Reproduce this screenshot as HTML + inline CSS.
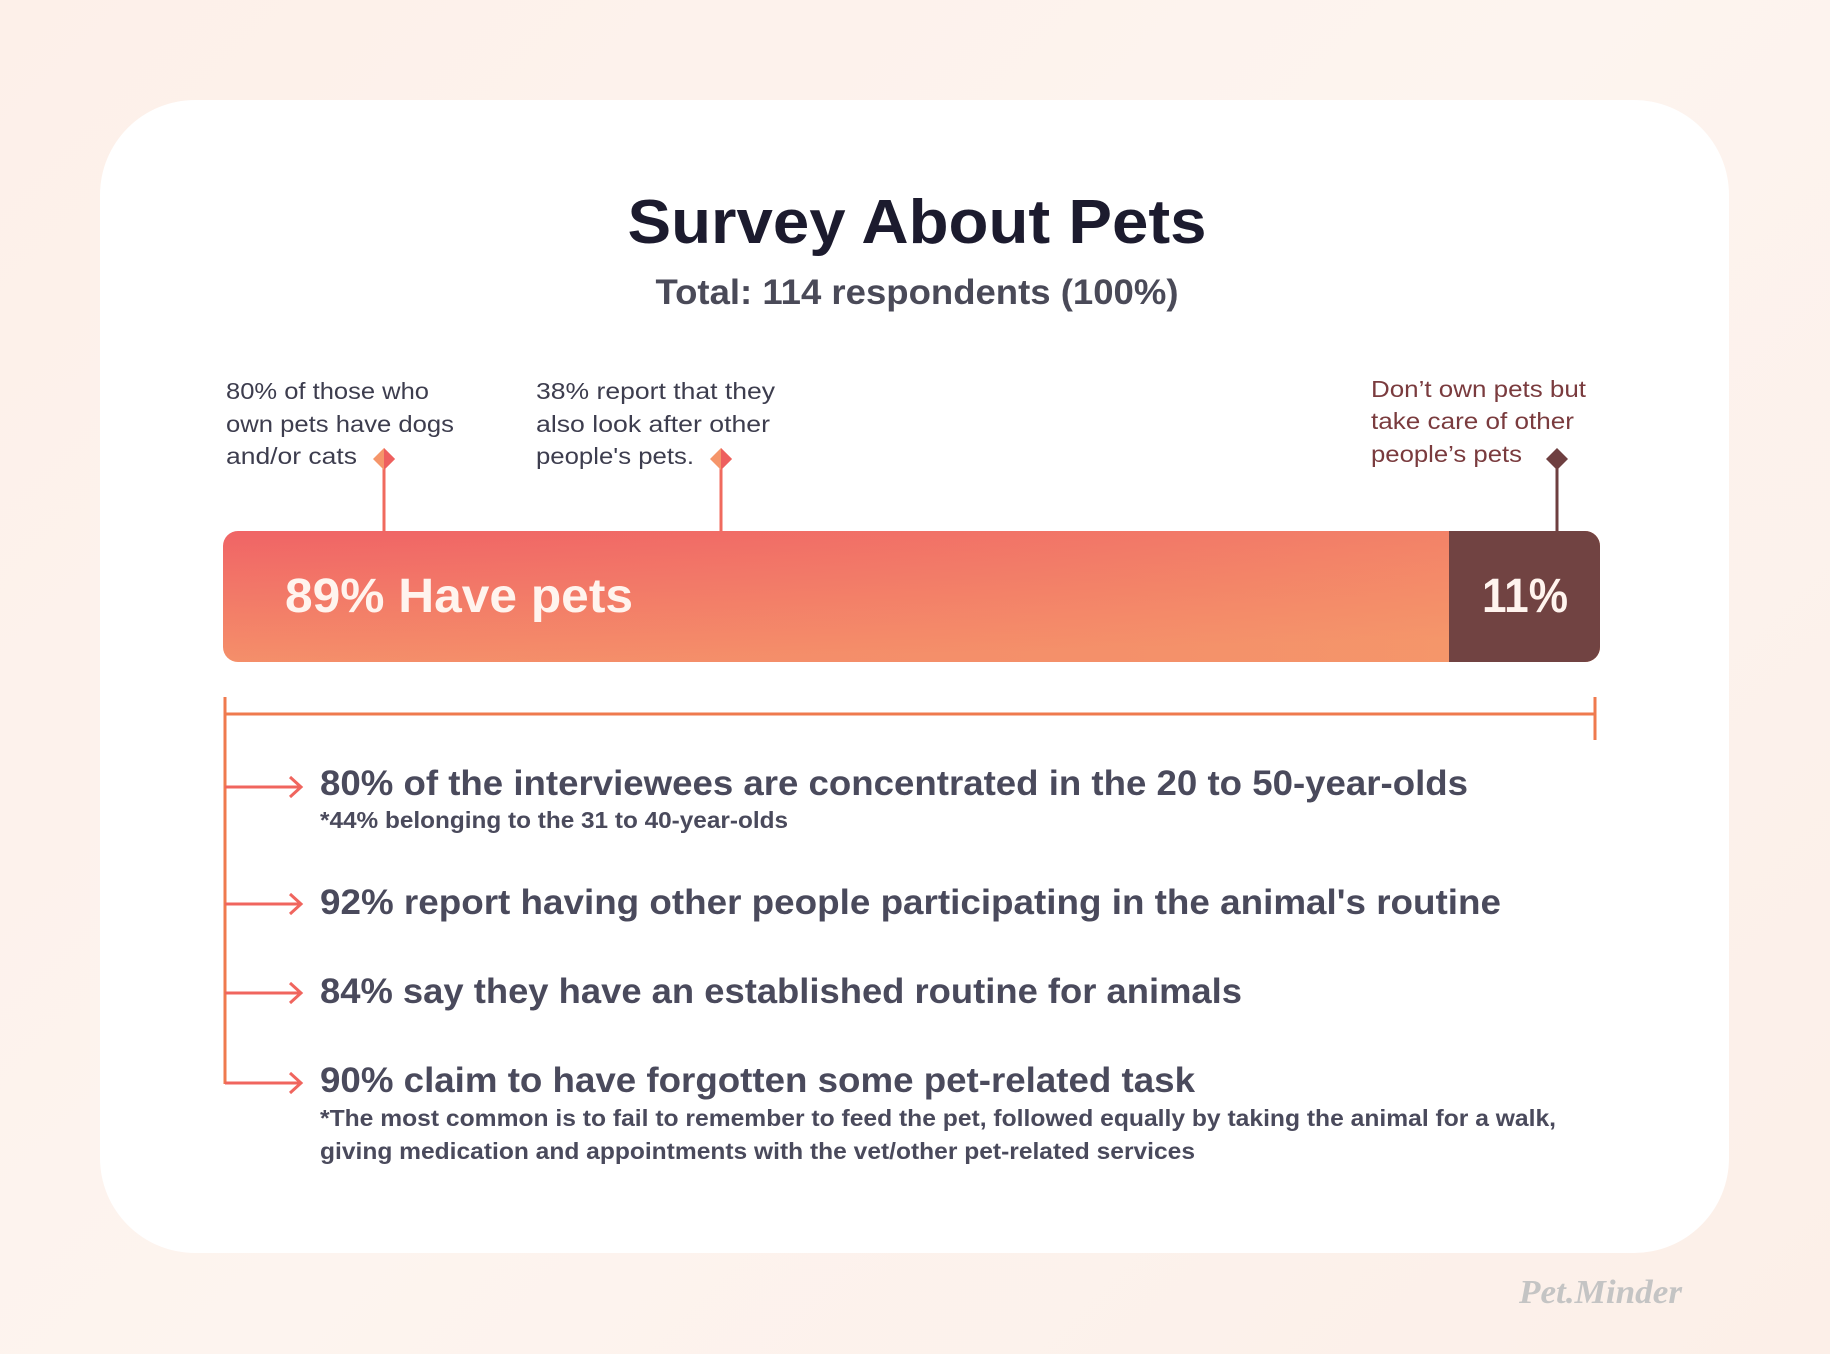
<!DOCTYPE html>
<html><head><meta charset="utf-8"><style>
html,body{margin:0;padding:0;}
body{width:1830px;height:1354px;overflow:hidden;background:linear-gradient(135deg,#fdf0e9,#fdf4ef 50%,#fcefe8);}
svg{display:block;font-family:"Liberation Sans",sans-serif;}
</style></head><body>
<svg width="1830" height="1354" viewBox="0 0 1830 1354" xmlns="http://www.w3.org/2000/svg">
<defs>
<linearGradient id="bar" x1="0" y1="0" x2="0.3" y2="1">
<stop offset="0" stop-color="#f06466"/><stop offset="1" stop-color="#f5936a"/>
</linearGradient>
<linearGradient id="bar2" x1="0" y1="0" x2="1" y2="0">
<stop offset="0" stop-color="#f06466" stop-opacity="0"/><stop offset="1" stop-color="#f5a06a" stop-opacity="0.5"/>
</linearGradient>
</defs>
<rect x="100" y="100" width="1629" height="1153" rx="95" fill="#ffffff"/>
<text x="917" y="243" text-anchor="middle" font-size="62" font-weight="bold" fill="#1c1b2e" textLength="579" lengthAdjust="spacingAndGlyphs">Survey About Pets</text>
<text x="917" y="304" text-anchor="middle" font-size="35" font-weight="bold" fill="#4a4a58" textLength="523" lengthAdjust="spacingAndGlyphs">Total: 114 respondents (100%)</text>

<g font-size="23" fill="#3d3d4e">
<text x="226" y="399" textLength="203" lengthAdjust="spacingAndGlyphs">80% of those who</text>
<text x="226" y="432" textLength="228" lengthAdjust="spacingAndGlyphs">own pets have dogs</text>
<text x="226" y="464" textLength="131" lengthAdjust="spacingAndGlyphs">and/or cats</text>
<text x="536" y="399" textLength="239" lengthAdjust="spacingAndGlyphs">38% report that they</text>
<text x="536" y="432" textLength="234" lengthAdjust="spacingAndGlyphs">also look after other</text>
<text x="536" y="464" textLength="158" lengthAdjust="spacingAndGlyphs">people's pets.</text>
</g>
<g font-size="23" fill="#7a3b3e">
<text x="1371" y="397" textLength="215" lengthAdjust="spacingAndGlyphs">Don’t own pets but</text>
<text x="1371" y="429" textLength="203" lengthAdjust="spacingAndGlyphs">take care of other</text>
<text x="1371" y="462" textLength="151" lengthAdjust="spacingAndGlyphs">people’s pets</text>
</g>
<g stroke-width="3">
<line x1="384" y1="459" x2="384" y2="532" stroke="#f06a5e"/>
<line x1="721" y1="459" x2="721" y2="532" stroke="#f06a5e"/>
<line x1="1557" y1="459" x2="1557" y2="532" stroke="#6e3f40"/>
</g>
<polygon points="384,448 395,459 384,470 373,459" fill="#f5956a"/>
<polygon points="384,448 395,459 384,470" fill="#ee5f5f"/>
<polygon points="721,448 732,459 721,470 710,459" fill="#f5956a"/>
<polygon points="721,448 732,459 721,470" fill="#ee5f5f"/>
<polygon points="1557,448 1568,459 1557,470 1546,459" fill="#6e3f40"/>

<rect x="223" y="531" width="1377" height="131" rx="15" fill="url(#bar)"/>
<rect x="223" y="531" width="1377" height="131" rx="15" fill="url(#bar2)"/>
<path d="M1449,531 H1585 a15,15 0 0 1 15,15 V647 a15,15 0 0 1 -15,15 H1449 Z" fill="#714342"/>
<text x="285" y="612" font-size="48" font-weight="bold" fill="#fff4ee" textLength="348" lengthAdjust="spacingAndGlyphs">89% Have pets</text>
<text x="1525" y="612" text-anchor="middle" font-size="48" font-weight="bold" fill="#fff4ee" textLength="86" lengthAdjust="spacingAndGlyphs">11%</text>

<g stroke="#ef7a4e" stroke-width="3" fill="none">
<line x1="225" y1="697" x2="225" y2="1084"/>
<line x1="224" y1="714" x2="1595" y2="714"/>
<line x1="1595" y1="697" x2="1595" y2="740"/>
</g>
<g stroke="#f0655e" stroke-width="3" fill="none">
<path d="M225,787 H300 M290,777 L301,787 L290,797"/>
<path d="M225,904 H300 M290,894 L301,904 L290,914"/>
<path d="M225,993 H300 M290,983 L301,993 L290,1003"/>
<path d="M225,1083 H300 M290,1073 L301,1083 L290,1093"/>
</g>
<g font-size="35" font-weight="bold" fill="#4a4a5c">
<text x="320" y="795" textLength="1148" lengthAdjust="spacingAndGlyphs">80% of the interviewees are concentrated in the 20 to 50-year-olds</text>
<text x="320" y="914" textLength="1181" lengthAdjust="spacingAndGlyphs">92% report having other people participating in the animal's routine</text>
<text x="320" y="1003" textLength="922" lengthAdjust="spacingAndGlyphs">84% say they have an established routine for animals</text>
<text x="320" y="1092" textLength="875" lengthAdjust="spacingAndGlyphs">90% claim to have forgotten some pet-related task</text>
</g>
<g font-size="23" font-weight="bold" fill="#4a4a5c">
<text x="320" y="828" textLength="468" lengthAdjust="spacingAndGlyphs">*44% belonging to the 31 to 40-year-olds</text>
<text x="320" y="1126" textLength="1236" lengthAdjust="spacingAndGlyphs">*The most common is to fail to remember to feed the pet, followed equally by taking the animal for a walk,</text>
<text x="320" y="1159" textLength="875" lengthAdjust="spacingAndGlyphs">giving medication and appointments with the vet/other pet-related services</text>
</g>
<text x="1519" y="1303" font-size="34" font-style="italic" font-weight="bold" fill="#c4c4c4" font-family="Liberation Serif, serif" textLength="163" lengthAdjust="spacingAndGlyphs">Pet.Minder</text>
</svg>
</body></html>
